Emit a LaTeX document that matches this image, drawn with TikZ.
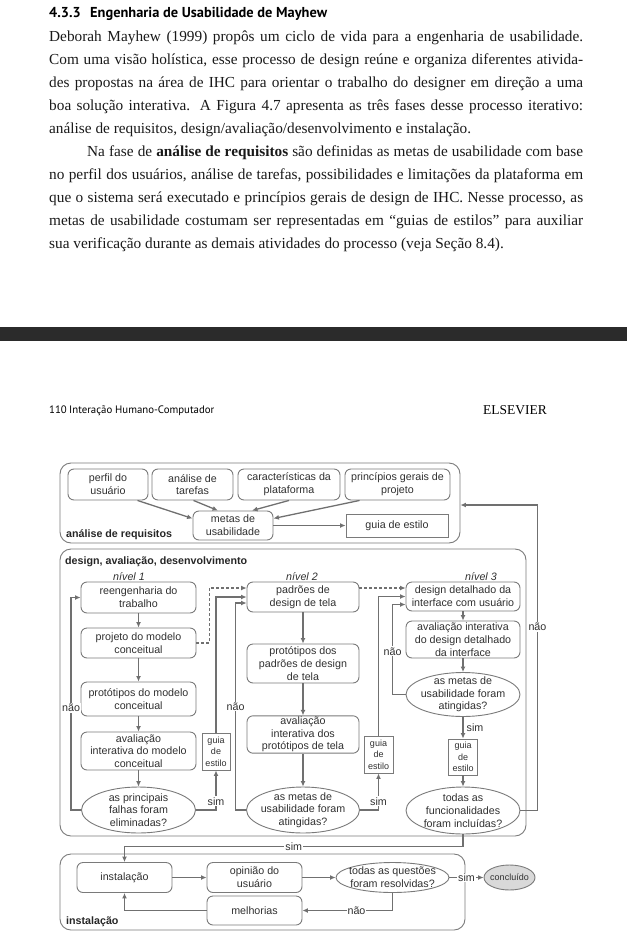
\documentclass[tikz,border=0pt]{standalone}
\usepackage{fontspec}
\setmainfont{Liberation Serif}
\newfontfamily\diagfont{Liberation Sans}
\newfontfamily\headfont{PT Sans}
\usetikzlibrary{shapes.geometric, arrows.meta, positioning}
\definecolor{linegray}{HTML}{707070}
\definecolor{boxgray}{HTML}{7A7A7A}
\definecolor{textgray}{HTML}{303030}
\definecolor{bandgray}{HTML}{2B2B2B}
\newcommand{\diagsize}{\fontsize{10.7}{12.7}\selectfont}
\newcommand{\smalldiag}{\fontsize{9}{11.3}\selectfont}
\tikzset{
  phasebox/.style={
    draw=boxgray, line width=0.9pt, rounded corners=11pt, inner sep=0pt
  },
  phaselabel/.style={
    anchor=base west, inner sep=0pt, text=black!85,
    font=\diagfont\bfseries\diagsize
  },
  levellabel/.style={inner sep=0pt, text=textgray, font=\diagfont\itshape\diagsize},
  stepbox/.style={
    draw=boxgray, line width=0.9pt, rounded corners=6pt, inner sep=1pt,
    align=center, text=textgray, font=\diagfont\diagsize
  },
  guiabox/.style={
    draw=boxgray, line width=0.9pt, inner sep=1pt,
    align=center, text=textgray, font=\diagfont\smalldiag
  },
  decision/.style={
    ellipse, draw=boxgray, line width=0.9pt, inner xsep=-12pt, inner ysep=-8pt,
    align=center, text=textgray, font=\diagfont\diagsize
  },
  edgelabel/.style={fill=white, inner sep=1pt, text=textgray, font=\diagfont\diagsize},
  flowarrow/.style={-{Latex[length=5.5pt,width=5pt]}, line width=1.3pt, draw=linegray},
  dasharrow/.style={flowarrow, dash pattern=on 3pt off 2pt}
}

\begin{document}
\begin{tikzpicture}[x=1pt, y=-1pt]
\useasboundingbox (0,0) rectangle (627,933);

% texto da pagina
\node[anchor=base west, inner sep=0pt, font=\headfont\bfseries\fontsize{14.4}{17}\selectfont] (secnum) at (49,18) {4.3.3};
\node[anchor=base west, inner sep=0pt, font=\headfont\bfseries\fontsize{14.4}{17}\selectfont] (sectitle) at (90,18) {Engenharia de Usabilidade de Mayhew};
\node[anchor=base west, inner sep=0pt, text=black!90] (corpo) at (49,42) {\parbox[t]{534pt}{\fontsize{15.3}{23}\selectfont\setlength{\parindent}{0pt}%
\makebox[534pt][s]{Deborah Mayhew (1999) propôs um ciclo de vida para a engenharia de usabilidade.}\\
\makebox[534pt][s]{Com uma visão holística, esse processo de design reúne e organiza diferentes ativida-}\\
\makebox[534pt][s]{des propostas na área de IHC para orientar o trabalho do designer em direção a uma}\\
\makebox[534pt][s]{boa solução interativa. A Figura 4.7 apresenta as três fases desse processo iterativo:}\\
análise de requisitos, design/avaliação/desenvolvimento e instalação.\\
\hspace*{38pt}\makebox[496pt][s]{Na fase de \textbf{análise de requisitos} são definidas as metas de usabilidade com base}\\
\makebox[534pt][s]{no perfil dos usuários, análise de tarefas, possibilidades e limitações da plataforma em}\\
\makebox[534pt][s]{que o sistema será executado e princípios gerais de design de IHC. Nesse processo, as}\\
\makebox[534pt][s]{metas de usabilidade costumam ser representadas em ``guias de estilos'' para auxiliar}\\
sua verificação durante as demais atividades do processo (veja Seção 8.4).}};

\fill[bandgray] (0,327) rectangle (627,341);

\node[anchor=base west, inner sep=0pt, font=\headfont\fontsize{10.8}{12}\selectfont] (pagenum) at (49,413) {110};
\node[anchor=base west, inner sep=0pt, font=\headfont\fontsize{10.8}{12}\selectfont] (runhead) at (69,413) {Interação Humano-Computador};
\node[anchor=base west, inner sep=0pt, font=\fontsize{13.5}{15}\selectfont] (editora) at (483,414) {ELSEVIER};

% fases
\node[phasebox, minimum width=400pt, minimum height=80pt] (reqframe) at (260,503) {};
\node[phasebox, minimum width=466pt, minimum height=287pt] (devframe) at (293,692.5) {};
\node[phasebox, minimum width=405pt, minimum height=76pt] (instframe) at (262.5,892) {};
\node[phaselabel] (reqlabel) at (66,537) {análise de requisitos};
\node[phaselabel] (devlabel) at (65,564) {design, avaliação, desenvolvimento};
\node[phaselabel] (instlabel) at (66,924) {instalação};

% analise de requisitos
\node[stepbox, minimum width=80pt, minimum height=31pt] (perfil) at (108,484.5) {perfil do\\usuário};
\node[stepbox, minimum width=81pt, minimum height=31pt] (tarefas) at (192.5,484.5) {análise de\\tarefas};
\node[stepbox, minimum width=102pt, minimum height=31pt] (plataforma) at (289,484.5) {características da\\plataforma};
\node[stepbox, minimum width=105pt, minimum height=31pt] (principios) at (397.5,484.5) {princípios gerais de\\projeto};
\node[stepbox, minimum width=80pt, minimum height=29pt] (metas) at (233,525.5) {metas de\\usabilidade};
\node[guiabox, font=\diagfont\diagsize, minimum width=102pt, minimum height=23pt] (guiareq) at (397,525.5) {guia de estilo};

\draw[flowarrow] ([xshift=-11pt]perfil.south east) -- ([yshift=7pt]metas.west);
\draw[flowarrow] ([xshift=1pt]tarefas.south) -- ([xshift=-15pt]metas.north);
\draw[flowarrow] (plataforma.south) -- ([xshift=19pt]metas.north);
\draw[flowarrow] ([xshift=15pt]principios.south west) -- ([yshift=7pt]metas.east);
\draw[flowarrow] (metas.east) -- (guiareq.west);

% niveis
\node[levellabel] (nivel1) at (129,577) {nível 1};
\node[levellabel] (nivel2) at (302,577) {nível 2};
\node[levellabel] (nivel3) at (481,577) {nível 3};

% nivel 1
\node[stepbox, minimum width=115pt, minimum height=31pt] (reeng) at (138.5,597.5) {reengenharia do\\trabalho};
\node[stepbox, minimum width=115pt, minimum height=30pt] (projeto) at (138.5,643) {projeto do modelo\\conceitual};
\node[stepbox, minimum width=115pt, minimum height=34pt] (prot1) at (138.5,699) {protótipos do modelo\\conceitual};
\node[stepbox, minimum width=115pt, minimum height=38pt] (aval1) at (138.5,751) {avaliação\\interativa do modelo\\conceitual};
\node[decision, minimum width=114pt, minimum height=46pt] (elim) at (138.5,810) {as principais\\falhas foram\\eliminadas?};
\node[guiabox, minimum width=28pt, minimum height=37pt] (guia1) at (216,751.5) {guia\\de\\estilo};

% nivel 2
\node[stepbox, minimum width=112pt, minimum height=30pt] (padroes) at (303,597) {padrões de\\design de tela};
\node[stepbox, minimum width=112pt, minimum height=39pt] (prot2) at (303,663.5) {protótipos dos\\padrões de design\\de tela};
\node[stepbox, minimum width=112pt, minimum height=37pt] (aval2) at (303,734.5) {avaliação\\interativa dos\\protótipos de tela};
\node[decision, minimum width=113pt, minimum height=46pt] (metas2) at (303,810) {as metas de\\usabilidade foram\\atingidas?};
\node[guiabox, minimum width=29pt, minimum height=37pt] (guia2) at (378.5,754.5) {guia\\de\\estilo};

% nivel 3
\node[stepbox, minimum width=114pt, minimum height=29pt] (design3) at (463,596.5) {design detalhado da\\interface com usuário};
\node[stepbox, minimum width=114pt, minimum height=37pt] (aval3) at (463,639.5) {avaliação interativa\\do design detalhado\\da interface};
\node[decision, minimum width=114pt, minimum height=44pt] (metas3) at (463,694.5) {as metas de\\usabilidade foram\\atingidas?};
\node[guiabox, minimum width=29pt, minimum height=36pt] (guia3) at (463,757) {guia\\de\\estilo};
\node[decision, minimum width=114pt, minimum height=47pt] (funcs) at (463,810.5) {todas as\\funcionalidades\\foram incluídas?};

\draw[flowarrow] (reeng.south) -- (projeto.north);
\draw[flowarrow] (projeto.south) -- (prot1.north);
\draw[flowarrow] (prot1.south) -- (aval1.north);
\draw[flowarrow] (aval1.south) -- (elim.north);
\draw[flowarrow] (elim.east) -| node[edgelabel, pos=0.61] {sim} (guia1.south);
\draw[flowarrow] (guia1.north) |- (padroes.west);
\draw[flowarrow] (elim.west) -- ++(-10,0) |- node[edgelabel, pos=0.24] {não} (reeng.west);
\draw[dasharrow] (projeto.east) -- ++(13,0) |- ([yshift=9pt]padroes.west);

\draw[flowarrow] (padroes.south) -- (prot2.north);
\draw[flowarrow] (prot2.south) -- (aval2.north);
\draw[flowarrow] (aval2.south) -- (metas2.north);
\draw[flowarrow] (metas2.east) -| node[edgelabel, pos=0.62] {sim} (guia2.south);
\draw[flowarrow] (guia2.north) |- (design3.west);
\draw[flowarrow] (metas2.west) -- ++(-10.5,0) |- node[edgelabel, pos=0.25] {não} ([yshift=-6pt]padroes.west);
\draw[dasharrow] ([yshift=9pt]padroes.east) -- ([yshift=9pt]padroes.east -| design3.west);

\draw[flowarrow] (design3.south) -- (aval3.north);
\draw[flowarrow] (aval3.south) -- (metas3.north);
\draw[flowarrow] (metas3.south) -- node[edgelabel, anchor=west, xshift=2pt] {sim} (guia3.north);
\draw[flowarrow] (guia3.south) -- (funcs.north);
\draw[flowarrow] (metas3.west) -- ++(-13,0) |- node[edgelabel, pos=0.24] {não} ([yshift=-8pt]design3.west);
\draw[flowarrow] (funcs.east) -- ++(17,0) |- node[edgelabel, pos=0.3] {não} ([yshift=-2pt]reqframe.east);

% instalacao
\node[stepbox, minimum width=95pt, minimum height=30pt] (inst) at (124.5,877.5) {instalação};
\node[stepbox, minimum width=95pt, minimum height=30pt] (opiniao) at (254.5,877.5) {opinião do\\usuário};
\node[decision, minimum width=113pt, minimum height=30pt] (questoes) at (392.5,877.5) {todas as questões\\foram resolvidas?};
\node[decision, fill=black!15, font=\diagfont\smalldiag, minimum width=51pt, minimum height=25pt] (concluido) at (509.5,877.5) {concluído};
\node[stepbox, minimum width=95pt, minimum height=29pt] (melhorias) at (254.5,910.5) {melhorias};

\draw[flowarrow] (funcs.south) -- ++(0,12) -| node[edgelabel, pos=0.25] {sim} (inst.north);
\draw[flowarrow] (inst.east) -- (opiniao.west);
\draw[flowarrow] (opiniao.east) -- (questoes.west);
\draw[flowarrow] (questoes.east) -- node[edgelabel] {sim} (concluido.west);
\draw[flowarrow] (questoes.south) |- node[edgelabel, pos=0.7] {não} (melhorias.east);
\draw[flowarrow] (melhorias.west) -| (inst.south);
\end{tikzpicture}
\end{document}
